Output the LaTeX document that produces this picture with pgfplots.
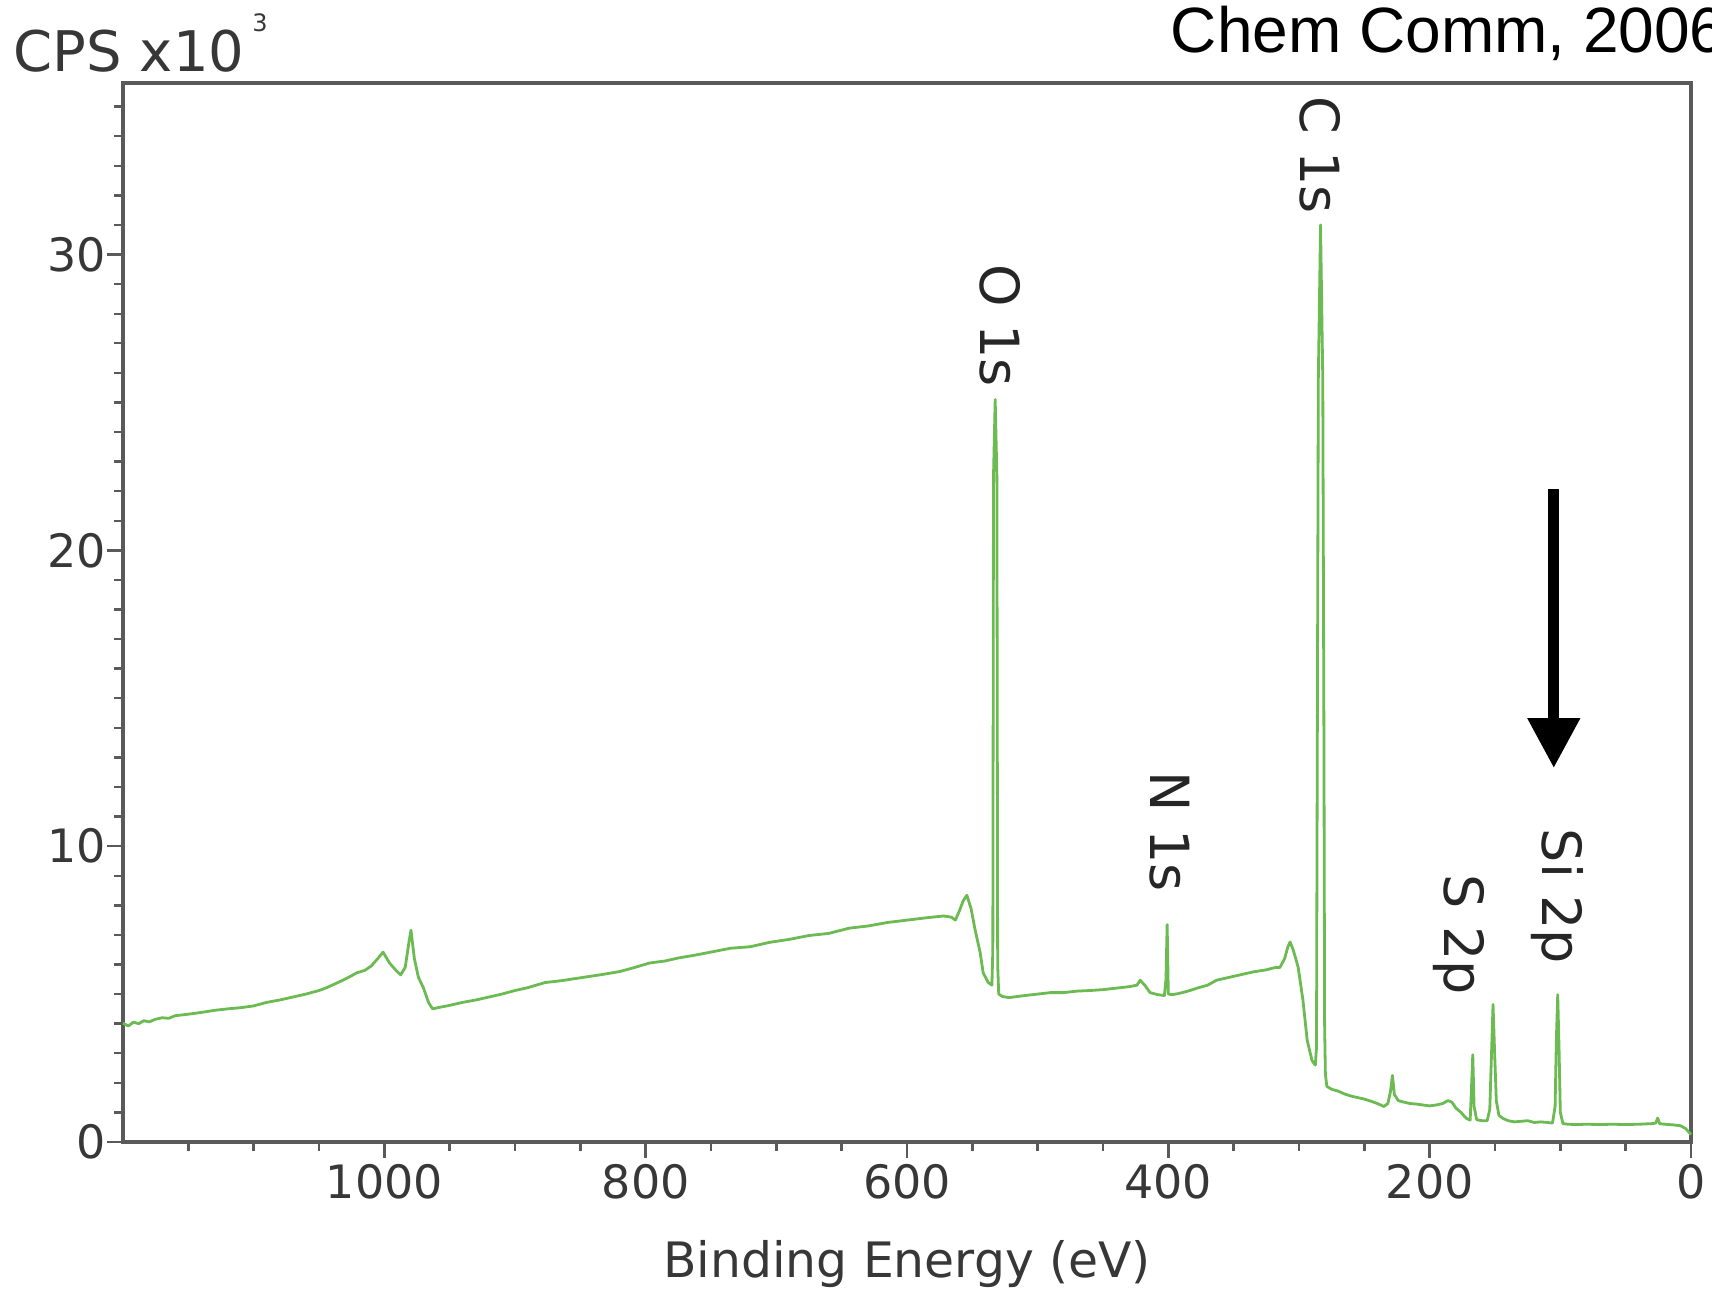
\documentclass[border=0pt]{standalone}
\usepackage{pgfplots}
\pgfplotsset{compat=1.18}
\usepackage{fontspec}
\setmainfont{DejaVu Sans}
\newfontfamily\arialfont{Liberation Sans}
\usetikzlibrary{arrows.meta}
\definecolor{spec}{RGB}{108,186,82}
\definecolor{axgray}{RGB}{90,90,90}
\definecolor{txtgray}{RGB}{55,55,55}

\begin{document}
\begin{tikzpicture}
\begin{axis}[
  scale only axis,
  width=392pt, height=264.75pt,
  x dir=reverse,
  xmin=0, xmax=1200, ymin=0, ymax=35.8,
  xtick={0,200,...,1000}, ytick={0,10,20,30},
  minor xtick={50,100,...,1150}, minor ytick={1,...,35},
  tick align=outside, tick pos=left,
  major tick length=4pt, minor tick length=2.2pt,
  tick style={axgray, line width=0.6pt},
  axis line style={axgray, line width=0.9pt},
  tick label style={font=\fontsize{11.5}{13}\selectfont, text=txtgray},
  xticklabel style={yshift=2pt},
  yticklabel style={inner sep=1.5pt, xshift=1.5pt},
  /pgf/number format/assume math mode=true,
  /pgf/number format/1000 sep={},
  xlabel={Binding Energy (eV)},
  xlabel style={at={(axis description cs:0.5,0)}, anchor=center, yshift=-30.5pt,
                font=\fontsize{12.2}{14}\selectfont, text=txtgray},
  clip=false,
]
\addplot[spec, line width=0.7pt, line join=round] coordinates {
(1200,4.02)(1196,3.92)(1192,4.05)(1188,4.0)(1184,4.1)(1180,4.06)(1175,4.15)(1170,4.2)
(1165,4.18)(1160,4.27)(1150,4.32)(1140,4.38)(1130,4.45)(1120,4.5)(1110,4.54)(1100,4.6)
(1090,4.72)(1080,4.8)(1070,4.9)(1060,5.0)(1050,5.12)(1044,5.22)(1035,5.4)(1028,5.55)
(1021,5.72)(1015,5.8)(1010,5.95)(1005,6.2)(1001,6.42)(996,6.05)(991,5.8)(987.5,5.65)
(984,5.9)(981,6.8)(979.6,7.16)(977,6.2)(974,5.58)(970,5.2)(966,4.7)(963,4.5)
(958,4.55)(952,4.6)(947,4.65)(940,4.72)(930,4.8)(920,4.9)(910,5.0)(900,5.12)
(890,5.22)(877,5.39)(865,5.45)(850,5.55)(835,5.65)(820,5.76)(810,5.88)(797,6.05)
(785,6.12)(775,6.22)(763,6.31)(750,6.42)(735,6.55)(720,6.6)(705,6.75)(690,6.85)
(675,6.98)(660,7.05)(644,7.23)(630,7.3)(615,7.42)(600,7.5)(585,7.58)(572,7.64)
(566,7.6)(563,7.5)(560,7.8)(557,8.15)(554.2,8.34)(551,7.9)(548,7.2)(544,6.4)
(541.7,5.72)(538,5.4)(535,5.3)
(534.3,6.5)(533.8,22.5)(532.5,25.1)(531.2,22.5)(530.6,6)(529.8,5.0)
(527,4.92)(522,4.88)(518.7,4.9)(510,4.95)(500,5.0)(490,5.05)(480,5.05)(470,5.1)
(460,5.12)(450,5.15)(440,5.2)(430,5.25)(424,5.3)(421.6,5.47)(418,5.3)(414,5.05)
(408,4.98)(403,4.95)(401.8,5.5)(400.9,7.35)(400,5.0)(397,4.98)(392,5.02)(385,5.1)
(378,5.2)(370,5.3)(363,5.47)(355,5.55)(345,5.65)(335,5.75)(325,5.82)(318,5.9)
(314.6,5.9)(311,6.2)(308.5,6.6)(306.8,6.76)(304.5,6.5)(302.5,6.2)(300.6,5.9)(297,4.8)
(293.7,3.43)(290,2.75)(287.5,2.6)(286.6,3.2)(286.3,8.4)(285.2,25.8)(283.5,31.0)
(281.8,25.8)(280.9,13.5)(280.4,4.0)(279.8,2.3)(278.7,1.88)(275,1.78)(270,1.72)
(265,1.62)(260,1.55)(255,1.5)(250,1.45)(245,1.38)(240,1.3)(235,1.2)(232,1.3)
(230,1.7)(228.5,2.25)(227,1.6)(224,1.4)(220,1.35)(215,1.3)(210,1.28)(205,1.25)
(200,1.22)(195,1.25)(190,1.3)(186,1.4)(183,1.35)(180,1.15)(176,1.0)(172,0.8)
(169,0.74)(168,1.8)(167,2.95)(166,1.2)(164,0.75)(160,0.72)(156,0.72)(154,1.1)
(152.5,3.2)(151.5,4.65)(150.5,3.3)(149,1.4)(147,0.9)(144,0.8)(140,0.72)(135,0.68)
(130,0.7)(125,0.72)(120,0.66)(115,0.68)(110,0.66)(106,0.64)(104,1.2)(103,3.5)
(102,4.98)(101,3.2)(100,1.0)(98,0.62)(94,0.6)(88,0.59)(80,0.6)(70,0.59)
(60,0.6)(50,0.59)(40,0.6)(30,0.62)(27,0.64)(25.5,0.81)(24,0.62)(20,0.6)
(14,0.58)(8,0.55)(4,0.45)(1,0.3)(0,0.25)
};
% peak labels
\node[rotate=-90, font=\fontsize{13.5}{15}\selectfont, text=black!85] at (axis cs:528.7,27.6) {O 1s};
\node[rotate=-90, font=\fontsize{13.5}{15}\selectfont, text=black!85] at (axis cs:283.7,33.35) {C 1s};
\node[rotate=-90, font=\fontsize{13.5}{15}\selectfont, text=black!85] at (axis cs:398.7,10.48) {N 1s};
\node[rotate=-90, font=\fontsize{13.5}{15}\selectfont, text=black!85] at (axis cs:177.5,7.0) {S 2p};
\node[rotate=-90, font=\fontsize{13.5}{15}\selectfont, text=black!85] at (axis cs:102.6,8.3) {Si 2p};
\draw[line width=2.75pt, -{Triangle[width=12.5pt,length=12.5pt]}] (axis cs:105,22.07) -- (axis cs:105,12.64);
\end{axis}
\node[anchor=base west, inner sep=0pt, font=\fontsize{14}{16}\selectfont, text=txtgray]
  at (-27.5pt,267.5pt) {CPS x10\kern2pt\raisebox{10pt}{\fontsize{6}{7}\selectfont 3}};
\node[anchor=base west, inner sep=0pt, font=\arialfont\fontsize{16}{18}\selectfont]
  at (261.75pt,272.25pt) {Chem Comm, 2006};
\pgfresetboundingbox
\useasboundingbox (-30.75pt,-37.5pt) rectangle (397.25pt,285.5pt);
\end{tikzpicture}
\end{document}
